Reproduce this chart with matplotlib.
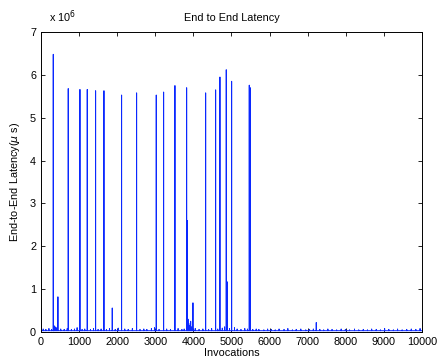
import numpy as np
import matplotlib
matplotlib.use("Agg")
import matplotlib.pyplot as plt
from matplotlib.ticker import FuncFormatter

plt.rcParams['font.family'] = ['Liberation Sans', 'DejaVu Sans']

N_CALLS = 10000
BASELINE = 0.03e6   # typical latency, micro seconds

# large spikes (invocation index, latency in us)
spike_pos = [1, 324, 340, 446, 717, 1024, 1216, 1435, 1654, 1872, 2117, 2511,
             3027, 3220, 3517, 3824, 3840, 3860, 3880, 3900, 3990, 4323, 4585,
             4698, 4864, 4890, 5005, 5468, 5494, 7226]
spike_val = [0.55e6, 6.48e6, 0.15e6, 0.82e6, 5.68e6, 5.66e6, 5.66e6, 5.63e6, 5.63e6,
             0.56e6, 5.53e6, 5.58e6, 5.53e6, 5.60e6, 5.75e6, 5.70e6, 2.60e6,
             0.30e6, 0.20e6, 0.15e6, 0.68e6, 5.58e6, 5.65e6, 5.95e6, 6.12e6,
             1.17e6, 5.85e6, 5.76e6, 5.70e6, 0.22e6]

# small jitter on top of the baseline
minor_pos = [60, 130, 210, 280, 370, 400, 520, 610, 690, 800, 880, 950, 1080,
             1150, 1300, 1380, 1500, 1580, 1720, 1800, 1950, 2030, 2200, 2290,
             2400, 2600, 2700, 2780, 2900, 2980, 3100, 3300, 3400, 3600, 3700,
             3760, 3930, 3960, 4050, 4150, 4250, 4400, 4480, 4640, 4760, 4820,
             4950, 5080, 5150, 5250, 5350, 5420, 5560, 5650, 5720, 5850, 5950,
             6050, 6150, 6250, 6380, 6480, 6600, 6700, 6820, 6950, 7050, 7150,
             7320, 7420, 7530, 7640, 7760, 7880, 7990, 8100, 8230, 8340, 8460,
             8570, 8680, 8800, 8910, 9020, 9130, 9250, 9360, 9480, 9600, 9720,
             9840, 9950]
minor_val = [0.07e6, 0.06e6, 0.08e6, 0.06e6, 0.12e6, 0.10e6, 0.07e6, 0.06e6,
             0.08e6, 0.06e6, 0.07e6, 0.10e6, 0.06e6, 0.07e6, 0.06e6, 0.08e6,
             0.06e6, 0.07e6, 0.06e6, 0.08e6, 0.06e6, 0.09e6, 0.07e6, 0.06e6,
             0.08e6, 0.06e6, 0.07e6, 0.06e6, 0.08e6, 0.10e6, 0.06e6, 0.07e6,
             0.06e6, 0.08e6, 0.06e6, 0.07e6, 0.25e6, 0.12e6, 0.08e6, 0.06e6,
             0.07e6, 0.06e6, 0.08e6, 0.07e6, 0.09e6, 0.12e6, 0.08e6, 0.10e6,
             0.07e6, 0.06e6, 0.08e6, 0.07e6, 0.06e6, 0.07e6, 0.06e6, 0.05e6,
             0.07e6, 0.06e6, 0.05e6, 0.07e6, 0.06e6, 0.08e6, 0.05e6, 0.06e6,
             0.07e6, 0.05e6, 0.06e6, 0.07e6, 0.06e6, 0.05e6, 0.07e6, 0.06e6,
             0.05e6, 0.07e6, 0.06e6, 0.05e6, 0.07e6, 0.05e6, 0.06e6, 0.05e6,
             0.07e6, 0.06e6, 0.05e6, 0.08e6, 0.06e6, 0.05e6, 0.07e6, 0.05e6,
             0.06e6, 0.07e6, 0.06e6, 0.08e6]

latency = np.full(N_CALLS, BASELINE)
latency[minor_pos] = minor_val
latency[spike_pos] = spike_val
calls = np.arange(N_CALLS)

fig = plt.figure(figsize=(4.4, 3.64), dpi=100)
ax = fig.add_axes([0.093, 0.088, 0.866, 0.824])
ax.plot(calls, latency, color="#0a28ff", linewidth=0.7)

ax.set_xlim(0, 10000)
ax.set_ylim(0, 7e6)
ax.set_xticks(np.arange(0, 10001, 1000))
ax.set_yticks(np.arange(0, 7.01e6, 1e6))
ax.yaxis.set_major_formatter(FuncFormatter(lambda v, p: "%d" % round(v / 1e6)))
ax.tick_params(direction="in", top=True, right=True, labelsize=7.8, length=3, width=0.6)
for s in ax.spines.values():
    s.set_linewidth(0.7)

ax.set_title("End to End Latency", fontsize=7.8, pad=8)
ax.set_xlabel("Invocations", fontsize=7.8, labelpad=0.5)
ax.set_ylabel(r"End-to-End Latency($\mu$ s)", fontsize=7.8, labelpad=6)
fig.text(0.112, 0.94, r"x 10$^6$", fontsize=7.8)

fig.savefig("out.png", dpi=100)
